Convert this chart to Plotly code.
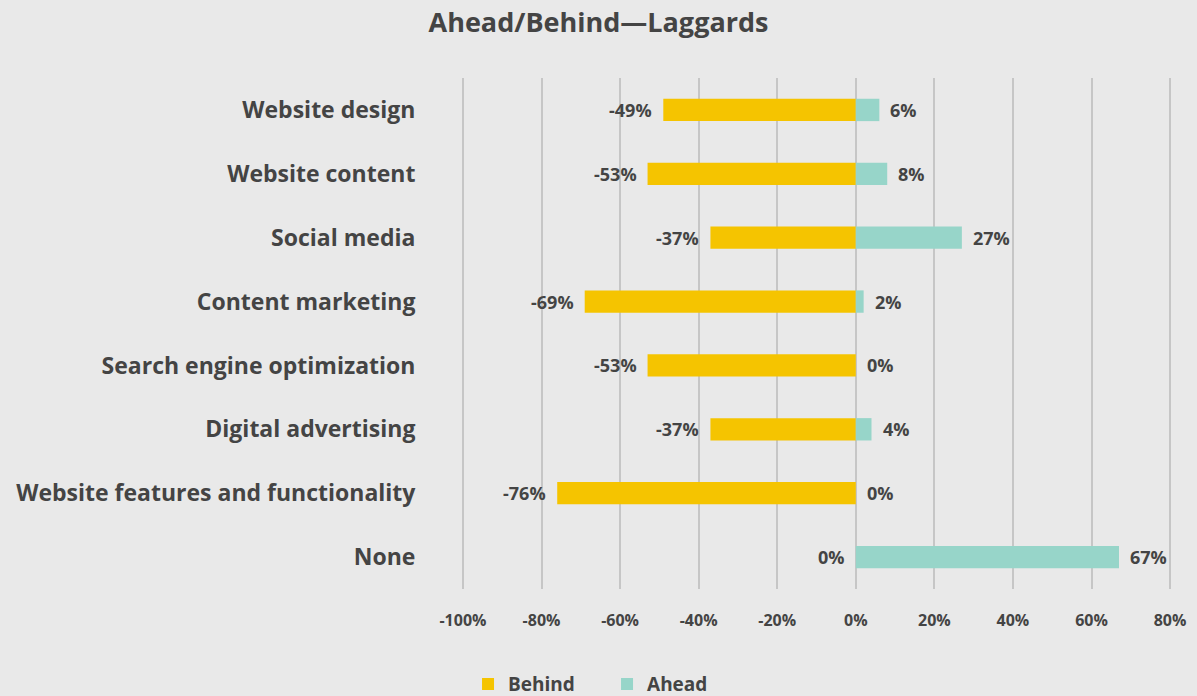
import plotly.graph_objects as go

# Channels, top to bottom
categories = [
    "Website design",
    "Website content",
    "Social media",
    "Content marketing",
    "Search engine optimization",
    "Digital advertising",
    "Website features and functionality",
    "None",
]
behind = [-49, -53, -37, -69, -53, -37, -76, 0]
ahead = [6, 8, 27, 2, 0, 4, 0, 67]
tick_vals = [-100, -80, -60, -40, -20, 0, 20, 40, 60, 80]
tick_text = [f"{v}%" for v in tick_vals]

FONT = "Open Sans"
TEXT = "#444444"
BG = "#e9e9e9"
YELLOW = "#f5c400"
TEAL = "#97d5c9"

fig = go.Figure()
fig.add_trace(go.Bar(
    y=categories, x=behind, orientation="h", name="Behind",
    marker=dict(color=YELLOW, line=dict(width=0)),
))
fig.add_trace(go.Bar(
    y=categories, x=ahead, orientation="h", name="Ahead",
    marker=dict(color=TEAL, line=dict(width=0)),
))

# value labels just beyond the bar ends
label_font = dict(family=FONT, size=18, color=TEXT, weight="bold")
annotations = []
for cat, b, a in zip(categories, behind, ahead):
    annotations.append(dict(
        x=b, y=cat, xref="x", yref="y", text=f"{b}%", showarrow=False,
        xanchor="right", yanchor="middle", xshift=-9, font=label_font,
    ))
    annotations.append(dict(
        x=a, y=cat, xref="x", yref="y", text=f"{a}%", showarrow=False,
        xanchor="left", yanchor="middle", xshift=9, font=label_font,
    ))

fig.update_layout(
    width=1197, height=696,
    paper_bgcolor=BG, plot_bgcolor=BG,
    barmode="relative", bargap=0.65,
    margin=dict(l=459, r=23, t=78, b=107, autoexpand=False),
    font=dict(family=FONT, color=TEXT),
    annotations=annotations,
    title=dict(
        text="<b>Ahead/Behind—Laggards</b>", x=0.5, xanchor="center",
        y=0.968, yanchor="middle",
        font=dict(family=FONT, size=27, color=TEXT),
    ),
    legend=dict(
        orientation="h", xref="container", yref="container",
        x=0.391, xanchor="left", y=0.017, yanchor="middle",
        font=dict(family=FONT, size=19, color=TEXT, weight="bold"),
        bgcolor="rgba(0,0,0,0)", itemwidth=30, traceorder="normal",
        entrywidth=94,
    ),
    xaxis=dict(
        range=[-101, 81], tickvals=tick_vals, ticktext=tick_text,
        showgrid=True, gridcolor="#c6c6c6", gridwidth=2, zeroline=False,
        ticks="outside", ticklen=17, tickcolor="rgba(0,0,0,0)",
        tickfont=dict(family=FONT, size=16, color=TEXT, weight="bold"),
        fixedrange=True,
    ),
    yaxis=dict(
        categoryorder="array", categoryarray=categories, autorange="reversed",
        showgrid=False, zeroline=False,
        ticks="outside", ticklen=38, tickcolor="rgba(0,0,0,0)",
        tickfont=dict(family=FONT, size=23, color=TEXT, weight="bold"),
    ),
)

fig.write_html("out.html")
